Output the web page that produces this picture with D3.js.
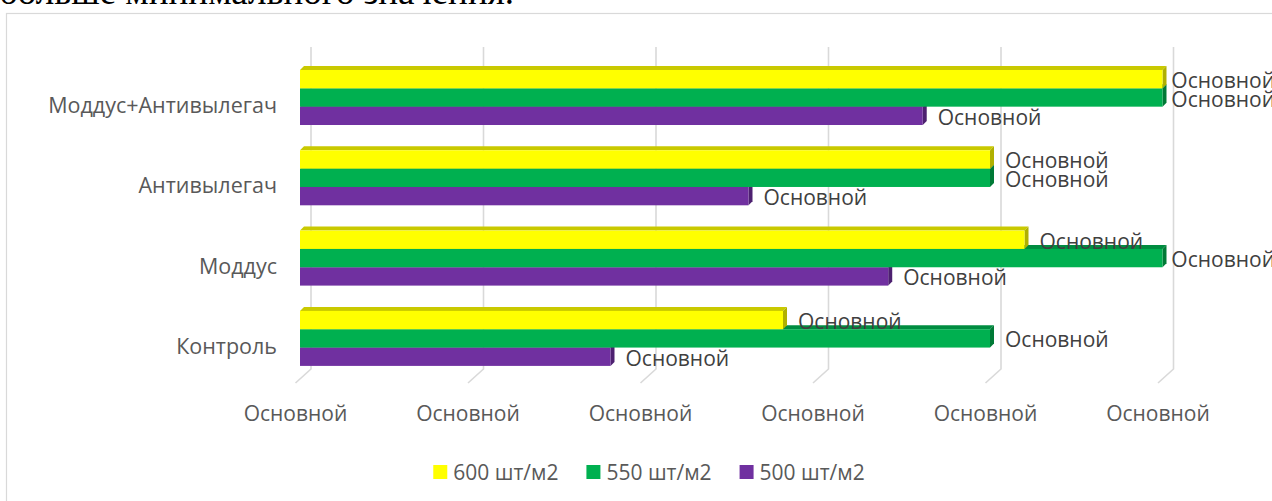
<!DOCTYPE html>
<html><head><meta charset="utf-8">
<script src="https://cdn.jsdelivr.net/npm/d3@7"></script>
<style>
html,body{margin:0;padding:0;background:#fff;overflow:hidden}
svg{display:block}
</style></head><body>
<svg id="chart" width="1272" height="501"></svg>
<script>
// Categories listed bottom-to-top, as in the worksheet
const categories = ["Контроль", "Моддус", "Антивылегач", "Моддус+Антивылегач"];
const seriesNames = ["600 шт/м2", "550 шт/м2", "500 шт/м2"];
const values600 = [2.80, 4.2, 4.0, 5.0];
const values550 = [4.0, 5.0, 4.0, 5.0];
const values500 = [1.80, 3.41, 2.6, 3.61];
const tickValues = [0, 1, 2, 3, 4, 5];
const tickLabels = ["Основной", "Основной", "Основной", "Основной", "Основной", "Основной"];
const dataLabel = "Основной";
const headingText = "больше минимального значения.";

const W = 1272, H = 501;
const svg = d3.select("#chart");
const FONT = "'Open Sans', 'DejaVu Sans', sans-serif";
const TEXT = "#595959";

// colour sets: front face, top face, side face
const palette = {
  "600 шт/м2": {front: "#FFFF00", top: "#C9C900", side: "#B0B000"},
  "550 шт/м2": {front: "#00B050", top: "#008C40", side: "#007A36"},
  "500 шт/м2": {front: "#7030A0", top: "#592681", side: "#4D2070"}
};
const seriesValues = {"600 шт/м2": values600, "550 шт/м2": values550, "500 шт/м2": values500};

// page text above the chart frame
svg.append("text")
  .attr("x", -1).attr("y", 4)
  .attr("font-family", "'Liberation Serif', 'Times New Roman', serif")
  .attr("font-size", 37).attr("fill", "#000")
  .text(headingText);

// chart frame
svg.append("rect")
  .attr("x", 6.5).attr("y", 13.5).attr("width", 1400).attr("height", 600)
  .attr("fill", "#fff").attr("stroke", "#D9D9D9").attr("stroke-width", 1.2);

// oblique 3D planes
const X_BACK = 311, X_FRONT = 295.5, X_BAR = 300;
const DX = 4, DY = 4;

const x = d3.scaleLinear().domain([0, 5]).range([0, 862.5]);
const y = d3.scaleBand()
  .domain(categories.slice().reverse())
  .range([57.35, 378.55])
  .paddingInner(0.315).paddingOuter(0.1575);
const ySub = d3.scaleBand().domain(seriesNames).range([0, y.bandwidth()]);

// gridlines: back wall, then floor edge
const grid = svg.append("g");
tickValues.forEach(t => {
  const xb = X_BACK + x(t), xf = X_FRONT + x(t);
  grid.append("path")
    .attr("d", `M${xb},47 L${xb},369 L${xf},383`)
    .attr("fill", "none").attr("stroke", "#D9D9D9").attr("stroke-width", 1.6);
});

// tick labels along the front edge
svg.append("g").selectAll("text")
  .data(tickValues)
  .join("text")
  .attr("x", d => X_FRONT + x(d))
  .attr("y", 413)
  .attr("text-anchor", "middle").attr("dominant-baseline", "central")
  .attr("font-family", FONT).attr("font-size", 21).attr("fill", TEXT)
  .text((d, i) => tickLabels[i]);

// category labels
svg.append("g").selectAll("text")
  .data(categories)
  .join("text")
  .attr("x", 277)
  .attr("y", d => y(d) + y.bandwidth() / 2 + 7)
  .attr("text-anchor", "end").attr("dominant-baseline", "central")
  .attr("font-family", FONT).attr("font-size", 21.5).attr("fill", TEXT)
  .text(d => d);

// bars: lowest series first so upper boxes overlap the top faces below
const bars = svg.append("g");
categories.forEach((cat, ci) => {
  seriesNames.slice().reverse().forEach(s => {
    const v = seriesValues[s][ci];
    const c = palette[s];
    const x0 = X_BAR, x1 = X_BAR + x(v);
    const y0 = y(cat) + ySub(s), h = ySub.bandwidth();
    const g = bars.append("g");
    // top face
    g.append("path")
      .attr("d", `M${x0},${y0} L${x0 + DX},${y0 - DY} L${x1 + DX},${y0 - DY} L${x1},${y0} Z`)
      .attr("fill", c.top);
    // side face
    g.append("path")
      .attr("d", `M${x1},${y0} L${x1 + DX},${y0 - DY} L${x1 + DX},${y0 + h - DY} L${x1},${y0 + h} Z`)
      .attr("fill", c.side);
    // front face
    g.append("rect")
      .attr("x", x0).attr("y", y0).attr("width", x1 - x0).attr("height", h)
      .attr("fill", c.front);
  });
});

// data labels, pulled back inside the right edge when they would run off
const labels = svg.append("g");
categories.forEach((cat, ci) => {
  seriesNames.forEach(s => {
    const v = seriesValues[s][ci];
    const t = labels.append("text")
      .attr("y", y(cat) + ySub(s) + ySub.bandwidth() / 2 + 1)
      .attr("dominant-baseline", "central")
      .attr("font-family", FONT).attr("font-size", 21).attr("fill", "#404040")
      .text(dataLabel);
    const tw = t.node().getComputedTextLength();
    t.attr("x", Math.min(X_BAR + x(v) + 15, W - tw + 3));
  });
});

// legend
const legend = svg.append("g");
let lx = 0;
seriesNames.forEach(s => {
  const g = legend.append("g");
  g.append("rect").attr("x", 0).attr("y", -7).attr("width", 14).attr("height", 14)
    .attr("fill", palette[s].front);
  const t = g.append("text").attr("x", 20).attr("y", 0)
    .attr("dominant-baseline", "central")
    .attr("font-family", FONT).attr("font-size", 21).attr("fill", TEXT)
    .text(s);
  const w = 20 + t.node().getComputedTextLength();
  g.attr("transform", `translate(${lx},0)`);
  lx += w + 28;
});
const legendW = lx - 28;
legend.attr("transform", `translate(${649 - legendW / 2},472)`);
</script>
</body></html>
